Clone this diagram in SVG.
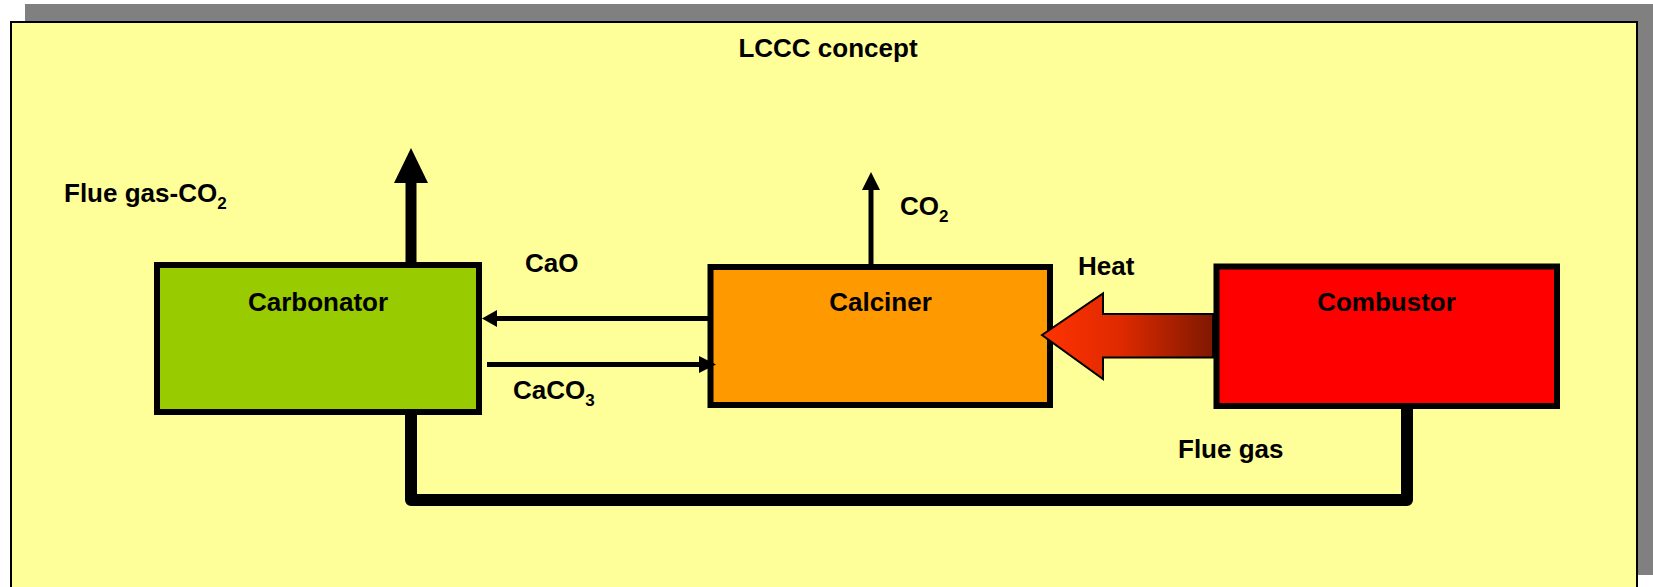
<svg xmlns="http://www.w3.org/2000/svg" width="1653" height="587" viewBox="0 0 1653 587">
<style>
text{font-family:"Liberation Sans",Arial,sans-serif;font-weight:bold;font-size:26px;fill:#000}
.sub{font-size:17px}
.box{stroke:#000;stroke-width:6}
.ln{stroke:#000;fill:none}
</style>
<defs>
<linearGradient id="heatG" x1="1042" y1="0" x2="1213" y2="0" gradientUnits="userSpaceOnUse">
<stop offset="0" stop-color="#FF3300"/>
<stop offset="0.45" stop-color="#E02A00"/>
<stop offset="1" stop-color="#7F1800"/>
</linearGradient>
</defs>
<g id="background">
<rect x="25" y="4" width="1628" height="571" fill="#808080"/>
<rect x="11" y="22" width="1626" height="580" fill="#FFFF99" stroke="#000" stroke-width="2"/>
<text x="828" y="57" text-anchor="middle">LCCC concept</text>
</g>
<g id="carbonator">
<rect class="box" x="157" y="265" width="322" height="147" fill="#99CC00"/>
<text x="318" y="311" text-anchor="middle">Carbonator</text>
</g>
<g id="calciner">
<rect class="box" x="710.5" y="267" width="339.5" height="138" fill="#FF9900"/>
<text x="880.5" y="311" text-anchor="middle">Calciner</text>
</g>
<g id="combustor">
<rect class="box" x="1216.5" y="266.5" width="340.5" height="139.5" fill="#FF0000"/>
<text x="1386.5" y="311" text-anchor="middle">Combustor</text>
</g>
<g id="connectors">
<path class="ln" d="M411,415 V500 H1407 V409" stroke-width="12" stroke-linejoin="round"/>
<line class="ln" x1="411" y1="262" x2="411" y2="182" stroke-width="11"/>
<polygon points="411,148 428,183 394,183" fill="#000"/>
<line class="ln" x1="871" y1="264" x2="871" y2="188" stroke-width="5"/>
<polygon points="871,172 880,190 862,190" fill="#000"/>
<line class="ln" x1="708" y1="318.5" x2="495" y2="318.5" stroke-width="5"/>
<polygon points="482,318.5 497,310 497,327" fill="#000"/>
<line class="ln" x1="487" y1="364.5" x2="701" y2="364.5" stroke-width="5"/>
<polygon points="716,364.5 699,356 699,373" fill="#000"/>
<polygon id="heat-arrow" points="1042,335 1103,293.5 1103,314 1213,314 1213,357.5 1103,357.5 1103,379" fill="url(#heatG)" stroke="#000" stroke-width="2"/>
</g>
<g id="labels">
<text x="64" y="202">Flue gas-CO<tspan class="sub" dy="7">2</tspan></text>
<text x="900" y="215">CO<tspan class="sub" dy="7">2</tspan></text>
<text x="525" y="272">CaO</text>
<text x="513" y="399">CaCO<tspan class="sub" dy="7">3</tspan></text>
<text x="1078" y="275">Heat</text>
<text x="1178" y="458">Flue gas</text>
</g>
</svg>
